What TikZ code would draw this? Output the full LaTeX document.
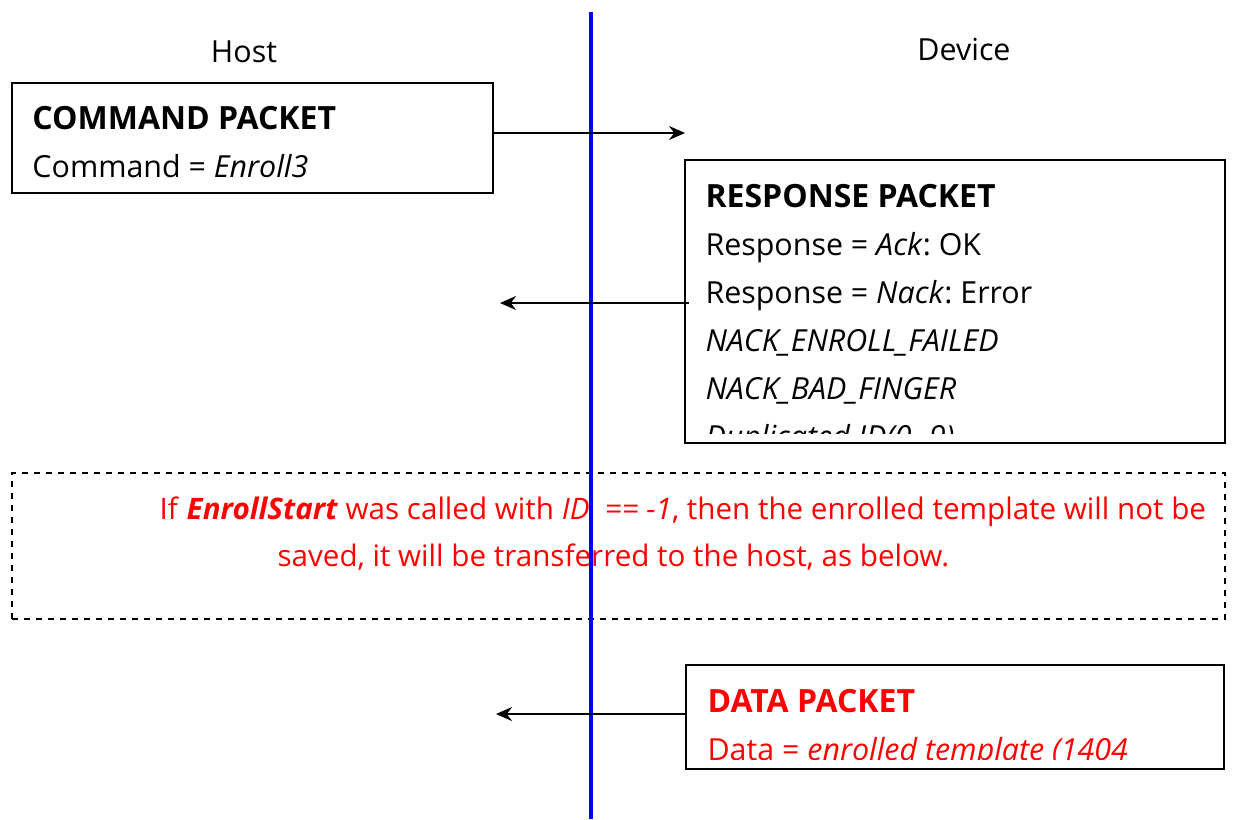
\documentclass[tikz,border=0pt]{standalone}
\usepackage{fontspec}
\setmainfont{Open Sans}
\usepackage{tikz}
\usetikzlibrary{shapes.geometric, arrows, arrows.meta, positioning, calc}
\frenchspacing
\newcommand{\pkthead}[1]{{\fontsize{16}{24}\selectfont\bfseries #1}}
\tikzstyle{packet} = [rectangle, draw=black, line width=0.9pt, inner sep=0pt]
\tikzstyle{note} = [rectangle, draw=black, dashed, line width=0.9pt, inner sep=0pt]
\tikzstyle{pkttext} = [anchor=base west, inner sep=0pt, align=left, font=\fontsize{15.2}{24}\selectfont]
\tikzstyle{notetext} = [anchor=base west, inner sep=0pt, red, font=\fontsize{14.8}{24}\selectfont]
\tikzstyle{side} = [inner sep=0pt, font=\fontsize{15.2}{24}\selectfont]
\tikzstyle{arrow} = [line width=1pt,->,>={Stealth[length=8pt, width=7pt]}]
\tikzstyle{wire} = [blue, line width=2pt]

\begin{document}
\begin{tikzpicture}[x=0.5pt, y=-0.5pt]
			\useasboundingbox (0,0) rectangle (1235,819);
			
			\node (hostlbl) [side] at (244,52) {Host};
			\node (devlbl) [side] at (964,49) {Device};
			
			\node (cmd) [packet][minimum width=240.5pt, minimum height=55pt] at (252.5,138) {};
			\node (cmdtxt) [pkttext] at ($(cmd.north west)+(21,95)$) {\pkthead{COMMAND PACKET}\\Command = \textit{Enroll3}};
			
			\node (rsp) [packet][minimum width=270pt, minimum height=141.5pt] at (955,301.5) {};
			\begin{scope}
				\clip (rsp.north west) rectangle ($(rsp.south east)+(0,-10)$);
				\node (rsptxt) [pkttext] at ($(rsp.north west)+(21,288)$) {\pkthead{RESPONSE PACKET}\\Response = \textit{Ack}: OK\\Response = \textit{Nack}: Error\\\textit{NACK\_ENROLL\_FAILED}\\\textit{NACK\_BAD\_FINGER}\\\textit{Duplicated ID(0\textasciitilde9)}};
			\end{scope}
			
			\node (note) [note][minimum width=606.5pt, minimum height=73pt] at (618.5,546) {};
			\node (notea) [notetext] at ($(note.north west)+(148,47)$) {If \textbf{\textit{EnrollStart}} was called with \textit{ID\ \ == -1}, then the enrolled template will not be};
			\node (noteb) [notetext] at ($(note.north west)+(266,94)$) {saved, it will be transferred to the host, as below.};
			
			\node (dat) [packet][minimum width=269pt, minimum height=52pt] at (955,717) {};
			\begin{scope}
				\clip (dat.north west) rectangle ($(dat.south east)+(0,-10)$);
				\node (dattxt) [pkttext, red] at ($(dat.north west)+(22,96)$) {\pkthead{DATA PACKET}\\Data = \textit{enrolled template (1404}};
			\end{scope}
			
			\draw [wire] (591,12) -- (591,819);
			
			\coordinate (cmdout) at (685,133);
			\coordinate (rspin) at (500,303);
			\coordinate (datin) at (496,714);
			\draw [arrow] (cmd.east |- cmdout) -- (cmdout);
			\draw [arrow] ($(rsp.west |- rspin)+(5,0)$) -- (rspin);
			\draw [arrow] (dat.west |- datin) -- (datin);
\end{tikzpicture}
\end{document}
